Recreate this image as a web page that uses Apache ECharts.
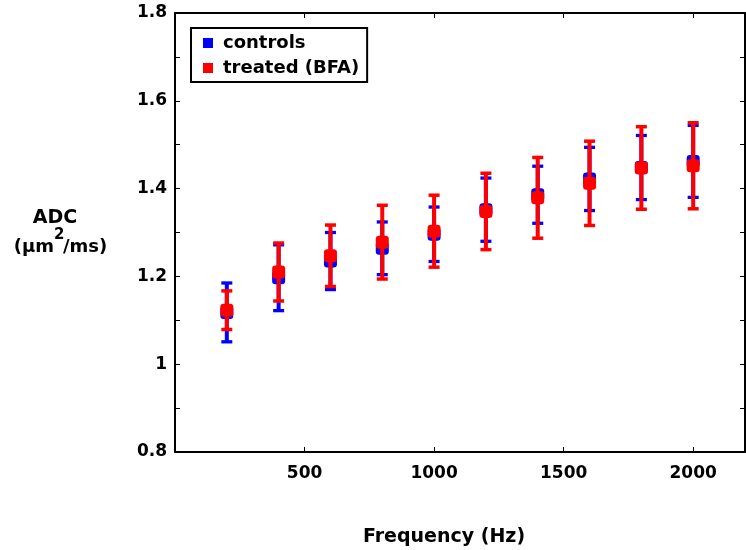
<!DOCTYPE html>
<html>
<head>
<meta charset="utf-8">
<script src="https://cdn.jsdelivr.net/npm/echarts@6/dist/echarts.min.js"></script>
<style>
  html, body { margin: 0; padding: 0; background: #fff; }
  #chart { width: 746px; height: 550px; }
</style>
</head>
<body>
<div id="chart"></div>
<script>
// ---- data ----
const freq = [200, 400, 600, 800, 1000, 1200, 1400, 1600, 1800, 2000];
const controlsMean = [1.118, 1.197, 1.235, 1.264, 1.296, 1.352, 1.386, 1.422, 1.448, 1.462];
const controlsErr  = [0.067, 0.075, 0.065, 0.060, 0.062, 0.072, 0.065, 0.072, 0.073, 0.082];
const treatedMean  = [1.123, 1.210, 1.247, 1.278, 1.303, 1.348, 1.379, 1.412, 1.447, 1.452];
const treatedErr   = [0.044, 0.066, 0.070, 0.084, 0.082, 0.087, 0.092, 0.096, 0.094, 0.098];
const seriesNames = ['controls', 'treated (BFA)'];
const xTicks = [500, 1000, 1500, 2000];
const yTickLabels = ['0.8', '1', '1.2', '1.4', '1.6', '1.8'];

const FONT = '"DejaVu Sans", "Liberation Sans", Arial, sans-serif';
const BLUE = '#0000ff';
const RED = '#ff0000';

function errData(means, errs) {
  return freq.map((f, i) => [f, means[i], means[i] - errs[i], means[i] + errs[i]]);
}
function pointData(means) {
  return freq.map((f, i) => [f, means[i]]);
}
function errRenderer(color, lw, capW, capHalf) {
  return function (params, api) {
    const x = api.value(0);
    const lo = api.coord([x, api.value(2)]);
    const hi = api.coord([x, api.value(3)]);
    const st = { stroke: color, lineWidth: lw, lineCap: 'butt' };
    const cst = { stroke: color, lineWidth: capW, lineCap: 'butt' };
    return {
      type: 'group',
      children: [
        { type: 'line', shape: { x1: lo[0], y1: lo[1], x2: hi[0], y2: hi[1] }, style: st },
        { type: 'line', shape: { x1: lo[0] - capHalf, y1: lo[1], x2: lo[0] + capHalf, y2: lo[1] }, style: cst },
        { type: 'line', shape: { x1: hi[0] - capHalf, y1: hi[1], x2: hi[0] + capHalf, y2: hi[1] }, style: cst }
      ]
    };
  };
}

const axisLineStyle = { color: '#000', width: 2 };
const chart = echarts.init(document.getElementById('chart'), null, { renderer: 'canvas' });

chart.setOption({
  animation: false,
  backgroundColor: '#fff',
  textStyle: { fontFamily: FONT },
  grid: { left: 175, right: 1, top: 13, bottom: 98, containLabel: false },
  xAxis: [
    {
      type: 'value', min: 0, max: 2200, interval: 500, position: 'bottom',
      axisLine: { show: true, onZero: false, lineStyle: axisLineStyle },
      axisTick: { show: true, inside: true, length: 5, lineStyle: { color: '#000', width: 1 } },
      axisLabel: {
        show: true, showMinLabel: false, showMaxLabel: false, margin: 13,
        color: '#000', fontFamily: FONT, fontWeight: 'bold', fontSize: 17,
        formatter: v => (xTicks.indexOf(v) >= 0 ? String(v) : '')
      },
      splitLine: { show: false }
    },
    {
      type: 'value', min: 0, max: 2200, interval: 500, position: 'top',
      axisLine: { show: true, onZero: false, lineStyle: axisLineStyle },
      axisTick: { show: true, inside: true, length: 5, lineStyle: { color: '#000', width: 1 } },
      axisLabel: { show: false },
      splitLine: { show: false }
    }
  ],
  yAxis: [
    {
      type: 'value', min: 0.8, max: 1.8, interval: 0.1, position: 'left',
      axisLine: { show: true, onZero: false, lineStyle: axisLineStyle },
      axisTick: { show: true, inside: true, length: 5, lineStyle: { color: '#000', width: 1 } },
      axisLabel: {
        show: true, margin: 8, color: '#000', fontFamily: FONT, fontWeight: 'bold', fontSize: 17,
        formatter: v => {
          const s = String(Math.round(v * 10) / 10);
          return yTickLabels.indexOf(s) >= 0 ? s : '';
        }
      },
      splitLine: { show: false }
    },
    {
      type: 'value', min: 0.8, max: 1.8, interval: 0.1, position: 'right',
      axisLine: { show: true, onZero: false, lineStyle: axisLineStyle },
      axisTick: { show: true, inside: true, length: 5, lineStyle: { color: '#000', width: 1 } },
      axisLabel: { show: false },
      splitLine: { show: false }
    }
  ],
  legend: {
    data: [
      { name: seriesNames[0], icon: 'rect', itemStyle: { color: BLUE } },
      { name: seriesNames[1], icon: 'rect', itemStyle: { color: RED } }
    ],
    orient: 'vertical',
    left: 191, top: 28,
    padding: [6, 8, 5, 12],
    itemWidth: 10, itemHeight: 10, itemGap: 7,
    borderColor: '#000', borderWidth: 2, borderRadius: 0,
    backgroundColor: '#fff',
    selectedMode: false,
    textStyle: { color: '#000', fontFamily: FONT, fontWeight: 'bold', fontSize: 18, lineHeight: 18, padding: [0, 0, 0, 5] }
  },
  graphic: [
    { type: 'text', x: 55, y: 218, style: { text: 'ADC', fill: '#000', font: 'bold 19px ' + FONT, align: 'center', verticalAlign: 'middle', textAlign: 'center', textVerticalAlign: 'middle' } },
    { type: 'text', x: 54, y: 247, style: { text: '(μm', fill: '#000', font: 'bold 18px ' + FONT, align: 'right', verticalAlign: 'middle', textAlign: 'right', textVerticalAlign: 'middle' } },
    { type: 'text', x: 54, y: 235, style: { text: '2', fill: '#000', font: 'bold 15px ' + FONT, align: 'left', verticalAlign: 'middle', textAlign: 'left', textVerticalAlign: 'middle' } },
    { type: 'text', x: 63, y: 247, style: { text: '/ms)', fill: '#000', font: 'bold 18px ' + FONT, align: 'left', verticalAlign: 'middle', textAlign: 'left', textVerticalAlign: 'middle' } },
    { type: 'text', x: 444, y: 537, style: { text: 'Frequency (Hz)', fill: '#000', font: 'bold 19px ' + FONT, align: 'center', verticalAlign: 'middle', textAlign: 'center', textVerticalAlign: 'middle' } }
  ],
  series: [
    {
      name: 'controls error', type: 'custom', xAxisIndex: 0, yAxisIndex: 0,
      renderItem: errRenderer(BLUE, 4, 3.3, 5.5),
      encode: { x: 0, y: [1, 2, 3] },
      data: errData(controlsMean, controlsErr), z: 2, silent: true
    },
    {
      name: seriesNames[0], type: 'scatter', xAxisIndex: 0, yAxisIndex: 0,
      symbol: 'roundRect', symbolSize: 13,
      itemStyle: { color: BLUE, opacity: 1 },
      data: pointData(controlsMean), z: 3
    },
    {
      name: 'treated error', type: 'custom', xAxisIndex: 0, yAxisIndex: 0,
      renderItem: errRenderer(RED, 4, 3.5, 5.5),
      encode: { x: 0, y: [1, 2, 3] },
      data: errData(treatedMean, treatedErr), z: 4, silent: true
    },
    {
      name: seriesNames[1], type: 'scatter', xAxisIndex: 0, yAxisIndex: 0,
      symbol: 'roundRect', symbolSize: 13,
      itemStyle: { color: RED, opacity: 1 },
      data: pointData(treatedMean), z: 5
    }
  ]
});
</script>
</body>
</html>
